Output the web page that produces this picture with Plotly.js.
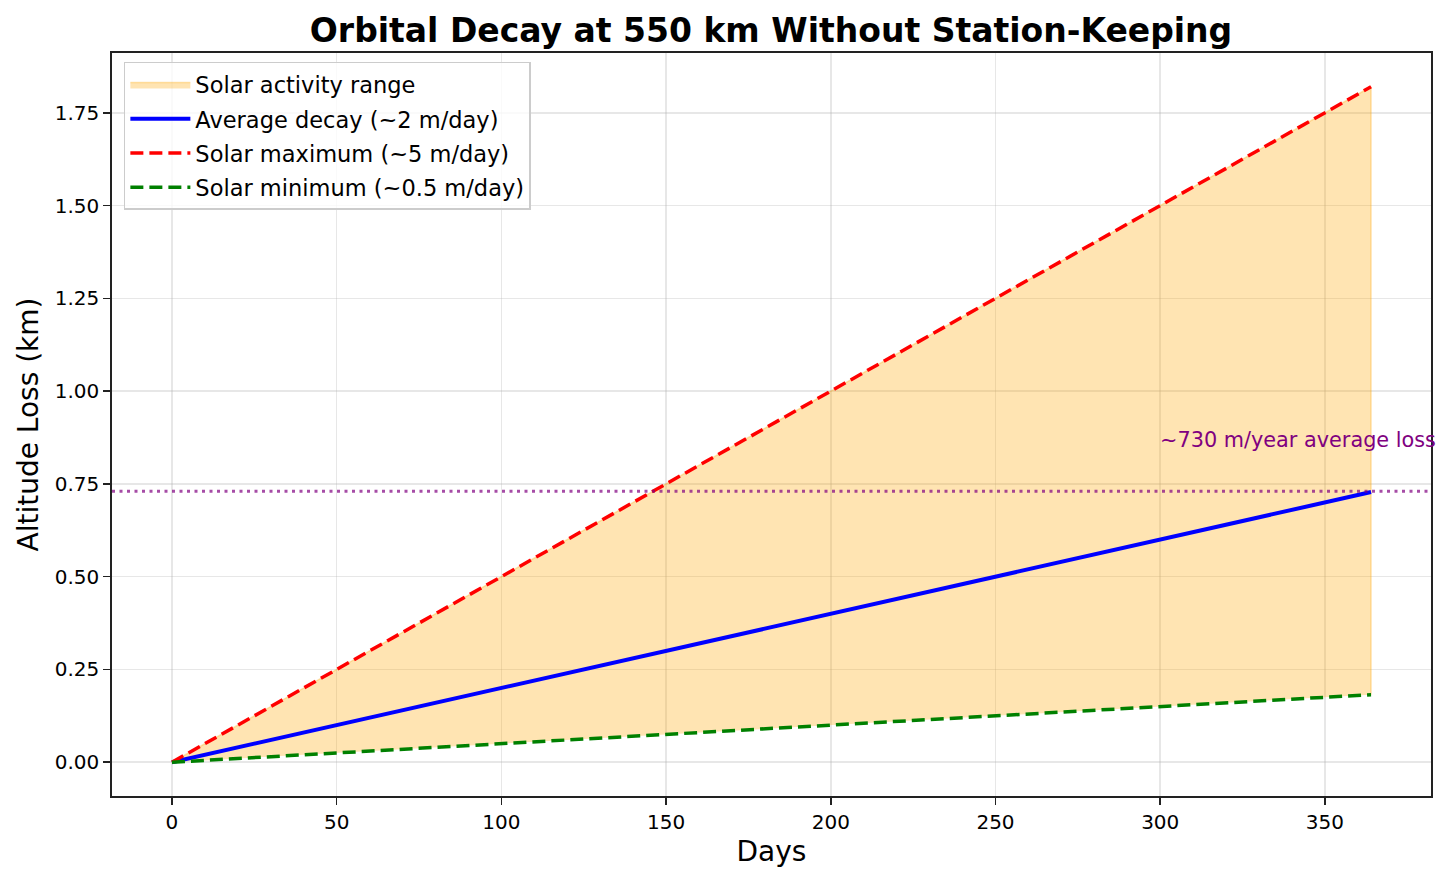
<!DOCTYPE html>
<html>
<head>
<meta charset="utf-8">
<script src="https://cdn.plot.ly/plotly-3.0.1.min.js"></script>
<style>html,body{margin:0;padding:0;background:#fff;}#chart{width:1452px;height:882px;}</style>
</head>
<body>
<div id="chart"></div>
<script>
// Data (straight lines: endpoints)
const days = [0, 364];
const avgDecay = [0, 0.728];      // km, ~2 m/day
const solarMax = [0, 1.82];       // km, ~5 m/day
const solarMin = [0, 0.182];      // km, ~0.5 m/day
const avgYearLoss = 0.73;         // km reference line
const annotationText = "~730 m/year average loss";
const annotationPos = [300, 0.85];
const xTicks = [0, 50, 100, 150, 200, 250, 300, 350];
const yTicks = [0, 0.25, 0.5, 0.75, 1.0, 1.25, 1.5, 1.75];

const font = "DejaVu Sans, sans-serif";
const edge = 'rgba(255,165,0,0.3)';

const traces = [
  {x: days, y: solarMin, mode: 'lines', line: {width: 0, color: 'rgba(255,165,0,0)'},
   showlegend: false, hoverinfo: 'skip', legendgroup: 'a'},
  {x: days, y: solarMax, mode: 'lines', fill: 'tonexty', fillcolor: 'rgba(255,165,0,0.3)',
   line: {width: 1.5, color: edge}, name: 'Solar activity range', legendgroup: 'a'},
  {x: [days[days.length-1], days[days.length-1]], y: [solarMin[solarMin.length-1], solarMax[solarMax.length-1]],
   mode: 'lines', line: {width: 1.5, color: edge}, showlegend: false, hoverinfo: 'skip', legendgroup: 'a'},
  {x: days, y: avgDecay, mode: 'lines', line: {color: 'blue', width: 4},
   name: 'Average decay (~2 m/day)', legendgroup: 'b'},
  {x: days, y: solarMax, mode: 'lines', line: {color: 'red', width: 3.5, dash: '13px,6px'},
   name: 'Solar maximum (~5 m/day)', legendgroup: 'c'},
  {x: days, y: solarMin, mode: 'lines', line: {color: 'green', width: 3.5, dash: '13px,6px'},
   name: 'Solar minimum (~0.5 m/day)', legendgroup: 'd'}
];

const layout = {
  width: 1452, height: 882,
  paper_bgcolor: 'white', plot_bgcolor: 'white',
  margin: {l: 112, r: 21, t: 53, b: 86},
  font: {family: font, size: 20, color: 'black'},
  title: {text: '<b>Orbital Decay at 550 km Without Station-Keeping</b>',
          font: {family: font, size: 33, color: 'black'},
          x: 0.531, xanchor: 'center', y: 0.966, yanchor: 'middle'},
  xaxis: {
    range: [-18.2, 382.2], tickvals: xTicks, ticktext: xTicks.map(String),
    showgrid: true, gridcolor: 'rgba(176,176,176,0.3)', gridwidth: 1.6,
    zeroline: false, showline: true, linecolor: '#222', linewidth: 1.8, mirror: true,
    ticks: 'outside', ticklen: 7, tickwidth: 1.6, tickcolor: '#222',
    tickfont: {family: font, size: 20},
    title: {text: 'Days', font: {family: font, size: 28}, standoff: 9}
  },
  yaxis: {
    range: [-0.091, 1.911], tickvals: yTicks, ticktext: yTicks.map(v => v.toFixed(2)),
    showgrid: true, gridcolor: 'rgba(176,176,176,0.3)', gridwidth: 1.6,
    zeroline: false, showline: true, linecolor: '#222', linewidth: 1.8, mirror: true,
    ticks: 'outside', ticklen: 7, tickwidth: 1.6, tickcolor: '#222',
    tickfont: {family: font, size: 20},
    title: {text: 'Altitude Loss (km)', font: {family: font, size: 28}, standoff: 8}
  },
  legend: {
    x: 0.009, y: 0.988, xanchor: 'left', yanchor: 'top', traceorder: 'grouped',
    bgcolor: 'rgba(255,255,255,0.8)', bordercolor: '#cccccc', borderwidth: 1.5,
    font: {family: font, size: 22.5}, tracegroupgap: 2, itemwidth: 60
  },
  shapes: [{
    type: 'line', xref: 'paper', x0: 0, x1: 1, yref: 'y', y0: avgYearLoss, y1: avgYearLoss,
    line: {color: 'rgba(128,0,128,0.7)', width: 3, dash: '3px,4.5px'}
  }],
  annotations: [{
    x: annotationPos[0], y: annotationPos[1], xref: 'x', yref: 'y',
    text: annotationText, showarrow: false, xanchor: 'left', yanchor: 'bottom',
    yshift: -7, xshift: -2,
    font: {family: font, size: 20.8, color: 'purple'}
  }]
};

Plotly.newPlot('chart', traces, layout, {displayModeBar: false, staticPlot: true});
</script>
</body>
</html>
